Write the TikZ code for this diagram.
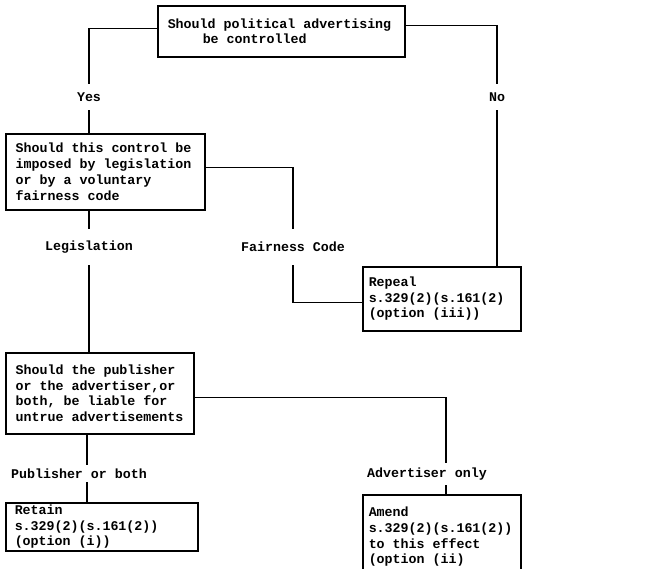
\documentclass[tikz,border=0pt]{standalone}
\usepackage{fontspec}
\newfontfamily\tw[WordSpace={1,0,0}]{Liberation Mono}
\begin{document}
\begin{tikzpicture}[x=1pt,y=-1pt,
  every node/.style={font=\tw\bfseries\fontsize{13.3}{15.7}\selectfont},
  qbox/.style={draw,line width=1.5pt,rectangle,anchor=north west,align=flush left,inner ysep=2pt},
  lab/.style={inner sep=0pt,minimum height=13pt,outer sep=0pt},
  conn/.style={line width=1.3pt}]
\useasboundingbox (0,0) rectangle (669,568);
\clip (0,0) rectangle (669,568);
% boxes
\node[qbox,inner xsep=10pt,text width=227pt,minimum height=51pt] (q1) at (157,5)
  {Should political advertising\\\hspace*{35pt}be controlled};
\node[qbox,inner xsep=10pt,text width=179pt,minimum height=76pt] (q2) at (5,133)
  {Should this control be\\imposed by legislation\\or by a voluntary\\fairness code};
\node[qbox,inner xsep=6pt,text width=146pt,minimum height=64pt] (repeal) at (362,266)
  {Repeal\\s.329(2)(s.161(2)\\(option (iii))};
\node[qbox,inner xsep=10pt,text width=168pt,minimum height=81pt] (q3) at (5,352)
  {Should the publisher\\or the advertiser,or\\both, be liable for\\untrue advertisements};
\node[qbox,inner xsep=9pt,text width=174pt,minimum height=48pt] (retain) at (5,502)
  {Retain\\s.329(2)(s.161(2))\\(option (i))};
\node[qbox,inner xsep=6pt,text width=146pt,minimum height=84pt] (amend) at (362,494)
  {Amend\\s.329(2)(s.161(2))\\to this effect\\(option (ii)};
% labels
\node[lab,minimum height=26pt] (yes) at (89,97) {Yes};
\node[lab,minimum height=26pt] (no) at (497,97) {No};
\node[lab,minimum height=36pt] (fair) at (293,247) {Fairness Code};
\node[lab,minimum height=36pt] (leg) at (89,247) {Legislation};
\node[lab] (pub) at (79,474) {Publisher or both};
\node[lab] (adv) at (427,474) {Advertiser only};
\coordinate (pl) at (87,0);
\coordinate (al) at (446,0);
% connectors
\draw[conn] ([yshift=2.5pt]q1.west) -| (yes.north);
\draw[conn] (yes.south) -- (yes.south |- q2.north);
\draw[conn] ([yshift=5.5pt]q1.east) -| (no.north);
\draw[conn] (no.south) -- (no.south |- repeal.north);
\draw[conn] ([yshift=4pt]q2.east) -| (fair.north);
\draw[conn] (fair.south) |- ([yshift=-4pt]repeal.west);
\draw[conn] (q2.south -| leg) -- (leg.north);
\draw[conn] (leg.south) -- (leg.south |- q3.north);
\draw[conn] ([yshift=-4.5pt]q3.east) -| ([yshift=4.5pt]adv.north -| al);
\draw[conn] ([yshift=-4.5pt]adv.south -| al) -- (amend.north -| al);
\draw[conn] (q3.south -| pl) -- ([yshift=2.5pt]pub.north -| pl);
\draw[conn] ([yshift=-1.5pt]pub.south -| pl) -- (retain.north -| pl);
\end{tikzpicture}
\end{document}
